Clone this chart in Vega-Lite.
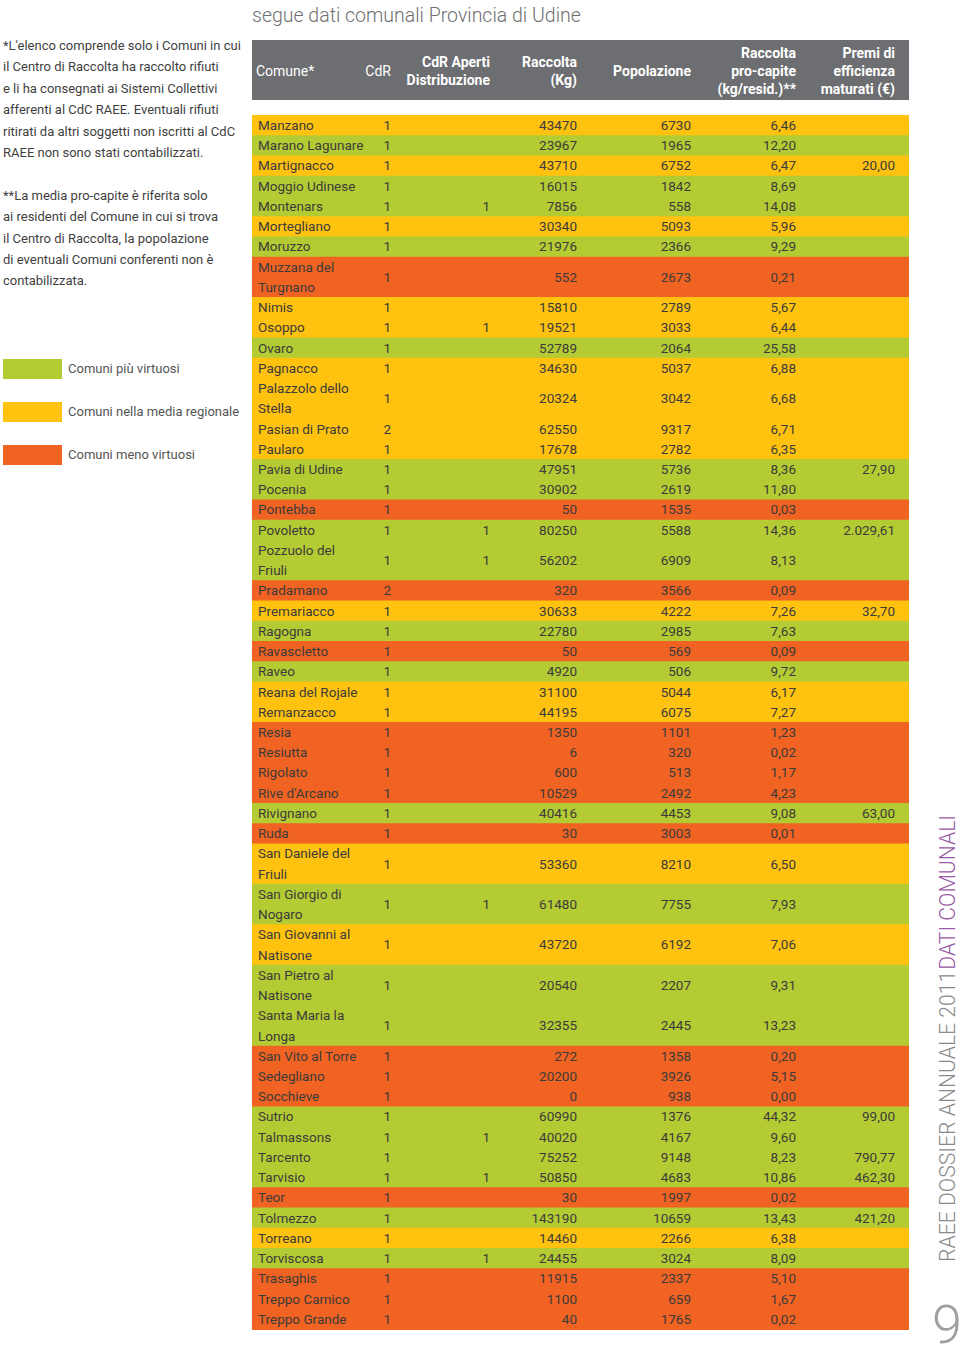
{
  "$schema": "https://vega.github.io/schema/vega-lite/v6.json",
  "padding": {"left": 3, "top": 5, "right": 0, "bottom": 0},
  "title": {
    "text": "segue dati comunali Provincia di Udine",
    "anchor": "start",
    "frame": "group",
    "fontSize": 19.5,
    "fontWeight": 300,
    "font": "Roboto",
    "color": "#6f6f6f",
    "baseline": "alphabetic",
    "offset": -1
  },
  "datasets": {
    "comuni": [
      {"comune": "Manzano", "righe": ["Manzano"], "cdr": 1, "raccolta": 43470, "popolazione": 6730, "procapite": 6.46, "categoria": "Comuni nella media regionale"},
      {"comune": "Marano Lagunare", "righe": ["Marano Lagunare"], "cdr": 1, "raccolta": 23967, "popolazione": 1965, "procapite": 12.20, "categoria": "Comuni più virtuosi"},
      {"comune": "Martignacco", "righe": ["Martignacco"], "cdr": 1, "raccolta": 43710, "popolazione": 6752, "procapite": 6.47, "premi": 20.00, "categoria": "Comuni nella media regionale"},
      {"comune": "Moggio Udinese", "righe": ["Moggio Udinese"], "cdr": 1, "raccolta": 16015, "popolazione": 1842, "procapite": 8.69, "categoria": "Comuni più virtuosi"},
      {"comune": "Montenars", "righe": ["Montenars"], "cdr": 1, "aperti": 1, "raccolta": 7856, "popolazione": 558, "procapite": 14.08, "categoria": "Comuni più virtuosi"},
      {"comune": "Mortegliano", "righe": ["Mortegliano"], "cdr": 1, "raccolta": 30340, "popolazione": 5093, "procapite": 5.96, "categoria": "Comuni nella media regionale"},
      {"comune": "Moruzzo", "righe": ["Moruzzo"], "cdr": 1, "raccolta": 21976, "popolazione": 2366, "procapite": 9.29, "categoria": "Comuni più virtuosi"},
      {"comune": "Muzzana del Turgnano", "righe": ["Muzzana del", "Turgnano"], "cdr": 1, "raccolta": 552, "popolazione": 2673, "procapite": 0.21, "categoria": "Comuni meno virtuosi"},
      {"comune": "Nimis", "righe": ["Nimis"], "cdr": 1, "raccolta": 15810, "popolazione": 2789, "procapite": 5.67, "categoria": "Comuni nella media regionale"},
      {"comune": "Osoppo", "righe": ["Osoppo"], "cdr": 1, "aperti": 1, "raccolta": 19521, "popolazione": 3033, "procapite": 6.44, "categoria": "Comuni nella media regionale"},
      {"comune": "Ovaro", "righe": ["Ovaro"], "cdr": 1, "raccolta": 52789, "popolazione": 2064, "procapite": 25.58, "categoria": "Comuni più virtuosi"},
      {"comune": "Pagnacco", "righe": ["Pagnacco"], "cdr": 1, "raccolta": 34630, "popolazione": 5037, "procapite": 6.88, "categoria": "Comuni nella media regionale"},
      {"comune": "Palazzolo dello Stella", "righe": ["Palazzolo dello", "Stella"], "cdr": 1, "raccolta": 20324, "popolazione": 3042, "procapite": 6.68, "categoria": "Comuni nella media regionale"},
      {"comune": "Pasian di Prato", "righe": ["Pasian di Prato"], "cdr": 2, "raccolta": 62550, "popolazione": 9317, "procapite": 6.71, "categoria": "Comuni nella media regionale"},
      {"comune": "Paularo", "righe": ["Paularo"], "cdr": 1, "raccolta": 17678, "popolazione": 2782, "procapite": 6.35, "categoria": "Comuni nella media regionale"},
      {"comune": "Pavia di Udine", "righe": ["Pavia di Udine"], "cdr": 1, "raccolta": 47951, "popolazione": 5736, "procapite": 8.36, "premi": 27.90, "categoria": "Comuni più virtuosi"},
      {"comune": "Pocenia", "righe": ["Pocenia"], "cdr": 1, "raccolta": 30902, "popolazione": 2619, "procapite": 11.80, "categoria": "Comuni più virtuosi"},
      {"comune": "Pontebba", "righe": ["Pontebba"], "cdr": 1, "raccolta": 50, "popolazione": 1535, "procapite": 0.03, "categoria": "Comuni meno virtuosi"},
      {"comune": "Povoletto", "righe": ["Povoletto"], "cdr": 1, "aperti": 1, "raccolta": 80250, "popolazione": 5588, "procapite": 14.36, "premi": 2029.61, "categoria": "Comuni più virtuosi"},
      {"comune": "Pozzuolo del Friuli", "righe": ["Pozzuolo del", "Friuli"], "cdr": 1, "aperti": 1, "raccolta": 56202, "popolazione": 6909, "procapite": 8.13, "categoria": "Comuni più virtuosi"},
      {"comune": "Pradamano", "righe": ["Pradamano"], "cdr": 2, "raccolta": 320, "popolazione": 3566, "procapite": 0.09, "categoria": "Comuni meno virtuosi"},
      {"comune": "Premariacco", "righe": ["Premariacco"], "cdr": 1, "raccolta": 30633, "popolazione": 4222, "procapite": 7.26, "premi": 32.70, "categoria": "Comuni nella media regionale"},
      {"comune": "Ragogna", "righe": ["Ragogna"], "cdr": 1, "raccolta": 22780, "popolazione": 2985, "procapite": 7.63, "categoria": "Comuni più virtuosi"},
      {"comune": "Ravascletto", "righe": ["Ravascletto"], "cdr": 1, "raccolta": 50, "popolazione": 569, "procapite": 0.09, "categoria": "Comuni meno virtuosi"},
      {"comune": "Raveo", "righe": ["Raveo"], "cdr": 1, "raccolta": 4920, "popolazione": 506, "procapite": 9.72, "categoria": "Comuni più virtuosi"},
      {"comune": "Reana del Rojale", "righe": ["Reana del Rojale"], "cdr": 1, "raccolta": 31100, "popolazione": 5044, "procapite": 6.17, "categoria": "Comuni nella media regionale"},
      {"comune": "Remanzacco", "righe": ["Remanzacco"], "cdr": 1, "raccolta": 44195, "popolazione": 6075, "procapite": 7.27, "categoria": "Comuni nella media regionale"},
      {"comune": "Resia", "righe": ["Resia"], "cdr": 1, "raccolta": 1350, "popolazione": 1101, "procapite": 1.23, "categoria": "Comuni meno virtuosi"},
      {"comune": "Resiutta", "righe": ["Resiutta"], "cdr": 1, "raccolta": 6, "popolazione": 320, "procapite": 0.02, "categoria": "Comuni meno virtuosi"},
      {"comune": "Rigolato", "righe": ["Rigolato"], "cdr": 1, "raccolta": 600, "popolazione": 513, "procapite": 1.17, "categoria": "Comuni meno virtuosi"},
      {"comune": "Rive d'Arcano", "righe": ["Rive d'Arcano"], "cdr": 1, "raccolta": 10529, "popolazione": 2492, "procapite": 4.23, "categoria": "Comuni meno virtuosi"},
      {"comune": "Rivignano", "righe": ["Rivignano"], "cdr": 1, "raccolta": 40416, "popolazione": 4453, "procapite": 9.08, "premi": 63.00, "categoria": "Comuni più virtuosi"},
      {"comune": "Ruda", "righe": ["Ruda"], "cdr": 1, "raccolta": 30, "popolazione": 3003, "procapite": 0.01, "categoria": "Comuni meno virtuosi"},
      {"comune": "San Daniele del Friuli", "righe": ["San Daniele del", "Friuli"], "cdr": 1, "raccolta": 53360, "popolazione": 8210, "procapite": 6.50, "categoria": "Comuni nella media regionale"},
      {"comune": "San Giorgio di Nogaro", "righe": ["San Giorgio di", "Nogaro"], "cdr": 1, "aperti": 1, "raccolta": 61480, "popolazione": 7755, "procapite": 7.93, "categoria": "Comuni più virtuosi"},
      {"comune": "San Giovanni al Natisone", "righe": ["San Giovanni al", "Natisone"], "cdr": 1, "raccolta": 43720, "popolazione": 6192, "procapite": 7.06, "categoria": "Comuni nella media regionale"},
      {"comune": "San Pietro al Natisone", "righe": ["San Pietro al", "Natisone"], "cdr": 1, "raccolta": 20540, "popolazione": 2207, "procapite": 9.31, "categoria": "Comuni più virtuosi"},
      {"comune": "Santa Maria la Longa", "righe": ["Santa Maria la", "Longa"], "cdr": 1, "raccolta": 32355, "popolazione": 2445, "procapite": 13.23, "categoria": "Comuni più virtuosi"},
      {"comune": "San Vito al Torre", "righe": ["San Vito al Torre"], "cdr": 1, "raccolta": 272, "popolazione": 1358, "procapite": 0.20, "categoria": "Comuni meno virtuosi"},
      {"comune": "Sedegliano", "righe": ["Sedegliano"], "cdr": 1, "raccolta": 20200, "popolazione": 3926, "procapite": 5.15, "categoria": "Comuni meno virtuosi"},
      {"comune": "Socchieve", "righe": ["Socchieve"], "cdr": 1, "raccolta": 0, "popolazione": 938, "procapite": 0.00, "categoria": "Comuni meno virtuosi"},
      {"comune": "Sutrio", "righe": ["Sutrio"], "cdr": 1, "raccolta": 60990, "popolazione": 1376, "procapite": 44.32, "premi": 99.00, "categoria": "Comuni più virtuosi"},
      {"comune": "Talmassons", "righe": ["Talmassons"], "cdr": 1, "aperti": 1, "raccolta": 40020, "popolazione": 4167, "procapite": 9.60, "categoria": "Comuni più virtuosi"},
      {"comune": "Tarcento", "righe": ["Tarcento"], "cdr": 1, "raccolta": 75252, "popolazione": 9148, "procapite": 8.23, "premi": 790.77, "categoria": "Comuni più virtuosi"},
      {"comune": "Tarvisio", "righe": ["Tarvisio"], "cdr": 1, "aperti": 1, "raccolta": 50850, "popolazione": 4683, "procapite": 10.86, "premi": 462.30, "categoria": "Comuni più virtuosi"},
      {"comune": "Teor", "righe": ["Teor"], "cdr": 1, "raccolta": 30, "popolazione": 1997, "procapite": 0.02, "categoria": "Comuni meno virtuosi"},
      {"comune": "Tolmezzo", "righe": ["Tolmezzo"], "cdr": 1, "raccolta": 143190, "popolazione": 10659, "procapite": 13.43, "premi": 421.20, "categoria": "Comuni più virtuosi"},
      {"comune": "Torreano", "righe": ["Torreano"], "cdr": 1, "raccolta": 14460, "popolazione": 2266, "procapite": 6.38, "categoria": "Comuni nella media regionale"},
      {"comune": "Torviscosa", "righe": ["Torviscosa"], "cdr": 1, "aperti": 1, "raccolta": 24455, "popolazione": 3024, "procapite": 8.09, "categoria": "Comuni più virtuosi"},
      {"comune": "Trasaghis", "righe": ["Trasaghis"], "cdr": 1, "raccolta": 11915, "popolazione": 2337, "procapite": 5.10, "categoria": "Comuni meno virtuosi"},
      {"comune": "Treppo Carnico", "righe": ["Treppo Carnico"], "cdr": 1, "raccolta": 1100, "popolazione": 659, "procapite": 1.67, "categoria": "Comuni meno virtuosi"},
      {"comune": "Treppo Grande", "righe": ["Treppo Grande"], "cdr": 1, "raccolta": 40, "popolazione": 1765, "procapite": 0.02, "categoria": "Comuni meno virtuosi"}
    ],
    "colonne": [
      {"campo": "comune", "intestazione": ["Comune*"]},
      {"campo": "cdr", "intestazione": ["CdR"]},
      {"campo": "aperti", "intestazione": ["CdR Aperti", "Distribuzione"]},
      {"campo": "raccolta", "intestazione": ["Raccolta", "(Kg)"]},
      {"campo": "popolazione", "intestazione": ["Popolazione"]},
      {"campo": "procapite", "intestazione": ["Raccolta", "pro-capite", "(kg/resid.)**"]},
      {"campo": "premi", "intestazione": ["Premi di", "efficienza", "maturati (€)"]}
    ],
    "pagina": [
      {"voce": "serie", "testo": "RAEE DOSSIER ANNUALE 2011"},
      {"voce": "sezione", "testo": "DATI COMUNALI"},
      {"voce": "numero", "testo": "9"}
    ]
  },
  "data": {"name": "comuni"},
  "transform": [
    {"flatten": ["righe"], "as": ["riga"]},
    {"window": [{"op": "count", "as": "fine"}], "frame": [null, 0]},
    {"window": [{"op": "count", "as": "inizio"}], "frame": [null, -1]},
    {"joinaggregate": [{"op": "mean", "field": "inizio", "as": "centro"}, {"op": "min", "field": "inizio", "as": "primo"}], "groupby": ["comune"]}
  ],
  "spacing": 0,
  "hconcat": [
    {
      "spacing": 15,
      "bounds": "flush",
      "vconcat": [
        {
          "width": 112, "height": 60,
          "view": {"fill": "#6d6e71", "stroke": null},
          "data": {"name": "colonne"},
          "transform": [{"filter": "datum.campo == 'comune'"}],
          "mark": {"type": "text", "align": "left", "baseline": "middle", "dx": 4, "dy": 2, "lineHeight": 18, "fontSize": 14, "fontWeight": "normal", "color": "#ffffff"},
          "encoding": {
            "x": {"field": "campo", "type": "nominal", "bandPosition": 0, "scale": {"type": "band", "paddingInner": 0, "paddingOuter": 0}, "axis": null},
            "text": {"field": "intestazione", "type": "nominal"}
          }
        },
        {
          "width": 112, "height": 1214,
          "layer": [
            {
              "mark": {"type": "rect", "y2Offset": 1},
              "encoding": {
                "x": {"datum": "comune", "type": "nominal", "scale": {"type": "band", "paddingInner": 0, "paddingOuter": 0}, "axis": null},
                "y": {"field": "inizio", "type": "quantitative", "scale": {"domain": [0, 60], "reverse": true, "nice": false, "zero": false}, "axis": null},
                "y2": {"field": "fine"},
                "color": {"field": "categoria", "type": "nominal", "scale": {"domain": ["Comuni più virtuosi", "Comuni nella media regionale", "Comuni meno virtuosi"], "range": ["#b4cb33", "#fec20f", "#f16322"]}, "legend": {"title": ["*L'elenco comprende solo i Comuni in cui", "il Centro di Raccolta ha raccolto rifiuti", "e li ha consegnati ai Sistemi Collettivi", "afferenti al CdC RAEE. Eventuali rifiuti", "ritirati da altri soggetti non iscritti al CdC", "RAEE non sono stati contabilizzati.", "\u200b", "**La media pro-capite è riferita solo", "ai residenti del Comune in cui si trova", "il Centro di Raccolta, la popolazione", "di eventuali Comuni conferenti non è", "contabilizzata."]}}
              }
            },
            {
              "mark": {"type": "text", "align": "left", "baseline": "middle", "dx": 6, "dy": 11},
              "encoding": {
                "x": {"datum": "comune", "type": "nominal", "bandPosition": 0},
                "y": {"field": "inizio", "type": "quantitative"},
                "text": {"field": "riga", "type": "nominal"}
              }
            }
          ]
        }
      ]
    },
    {
      "spacing": 15,
      "bounds": "flush",
      "vconcat": [
        {
          "width": 40, "height": 60,
          "view": {"fill": "#6d6e71", "stroke": null},
          "data": {"name": "colonne"},
          "transform": [{"filter": "datum.campo == 'cdr'"}],
          "mark": {"type": "text", "align": "right", "baseline": "middle", "dx": -13, "dy": 2, "lineHeight": 18, "fontSize": 14, "fontWeight": "normal", "color": "#ffffff"},
          "encoding": {
            "x": {"field": "campo", "type": "nominal", "bandPosition": 1, "scale": {"type": "band", "paddingInner": 0, "paddingOuter": 0}, "axis": null},
            "text": {"field": "intestazione", "type": "nominal"}
          }
        },
        {
          "width": 40, "height": 1214,
          "layer": [
            {
              "mark": {"type": "rect", "y2Offset": 1},
              "encoding": {
                "x": {"datum": "cdr", "type": "nominal", "scale": {"type": "band", "paddingInner": 0, "paddingOuter": 0}, "axis": null},
                "y": {"field": "inizio", "type": "quantitative", "scale": {"domain": [0, 60], "reverse": true, "nice": false, "zero": false}, "axis": null},
                "y2": {"field": "fine"},
                "color": {"field": "categoria", "type": "nominal", "scale": {"domain": ["Comuni più virtuosi", "Comuni nella media regionale", "Comuni meno virtuosi"], "range": ["#b4cb33", "#fec20f", "#f16322"]}, "legend": {"title": ["*L'elenco comprende solo i Comuni in cui", "il Centro di Raccolta ha raccolto rifiuti", "e li ha consegnati ai Sistemi Collettivi", "afferenti al CdC RAEE. Eventuali rifiuti", "ritirati da altri soggetti non iscritti al CdC", "RAEE non sono stati contabilizzati.", "\u200b", "**La media pro-capite è riferita solo", "ai residenti del Comune in cui si trova", "il Centro di Raccolta, la popolazione", "di eventuali Comuni conferenti non è", "contabilizzata."]}}
              }
            },
            {
              "transform": [{"filter": "datum.inizio == datum.primo"}],
              "mark": {"type": "text", "align": "right", "baseline": "middle", "dx": -13, "dy": 11},
              "encoding": {
                "x": {"datum": "cdr", "type": "nominal", "bandPosition": 1},
                "y": {"field": "centro", "type": "quantitative"},
                "text": {"field": "cdr", "type": "quantitative", "format": "d"}
              }
            }
          ]
        }
      ]
    },
    {
      "spacing": 15,
      "bounds": "flush",
      "vconcat": [
        {
          "width": 99, "height": 60,
          "view": {"fill": "#6d6e71", "stroke": null},
          "data": {"name": "colonne"},
          "transform": [{"filter": "datum.campo == 'aperti'"}],
          "mark": {"type": "text", "align": "right", "baseline": "middle", "dx": -13, "dy": -7, "lineHeight": 18, "fontSize": 14, "fontWeight": "bold", "color": "#ffffff"},
          "encoding": {
            "x": {"field": "campo", "type": "nominal", "bandPosition": 1, "scale": {"type": "band", "paddingInner": 0, "paddingOuter": 0}, "axis": null},
            "text": {"field": "intestazione", "type": "nominal"}
          }
        },
        {
          "width": 99, "height": 1214,
          "layer": [
            {
              "mark": {"type": "rect", "y2Offset": 1},
              "encoding": {
                "x": {"datum": "aperti", "type": "nominal", "scale": {"type": "band", "paddingInner": 0, "paddingOuter": 0}, "axis": null},
                "y": {"field": "inizio", "type": "quantitative", "scale": {"domain": [0, 60], "reverse": true, "nice": false, "zero": false}, "axis": null},
                "y2": {"field": "fine"},
                "color": {"field": "categoria", "type": "nominal", "scale": {"domain": ["Comuni più virtuosi", "Comuni nella media regionale", "Comuni meno virtuosi"], "range": ["#b4cb33", "#fec20f", "#f16322"]}, "legend": {"title": ["*L'elenco comprende solo i Comuni in cui", "il Centro di Raccolta ha raccolto rifiuti", "e li ha consegnati ai Sistemi Collettivi", "afferenti al CdC RAEE. Eventuali rifiuti", "ritirati da altri soggetti non iscritti al CdC", "RAEE non sono stati contabilizzati.", "\u200b", "**La media pro-capite è riferita solo", "ai residenti del Comune in cui si trova", "il Centro di Raccolta, la popolazione", "di eventuali Comuni conferenti non è", "contabilizzata."]}}
              }
            },
            {
              "transform": [{"filter": "datum.inizio == datum.primo && isValid(datum.aperti)"}],
              "mark": {"type": "text", "align": "right", "baseline": "middle", "dx": -13, "dy": 11},
              "encoding": {
                "x": {"datum": "aperti", "type": "nominal", "bandPosition": 1},
                "y": {"field": "centro", "type": "quantitative"},
                "text": {"field": "aperti", "type": "quantitative", "format": "d"}
              }
            }
          ]
        }
      ]
    },
    {
      "spacing": 15,
      "bounds": "flush",
      "vconcat": [
        {
          "width": 87, "height": 60,
          "view": {"fill": "#6d6e71", "stroke": null},
          "data": {"name": "colonne"},
          "transform": [{"filter": "datum.campo == 'raccolta'"}],
          "mark": {"type": "text", "align": "right", "baseline": "middle", "dx": -13, "dy": -7, "lineHeight": 18, "fontSize": 14, "fontWeight": "bold", "color": "#ffffff"},
          "encoding": {
            "x": {"field": "campo", "type": "nominal", "bandPosition": 1, "scale": {"type": "band", "paddingInner": 0, "paddingOuter": 0}, "axis": null},
            "text": {"field": "intestazione", "type": "nominal"}
          }
        },
        {
          "width": 87, "height": 1214,
          "layer": [
            {
              "mark": {"type": "rect", "y2Offset": 1},
              "encoding": {
                "x": {"datum": "raccolta", "type": "nominal", "scale": {"type": "band", "paddingInner": 0, "paddingOuter": 0}, "axis": null},
                "y": {"field": "inizio", "type": "quantitative", "scale": {"domain": [0, 60], "reverse": true, "nice": false, "zero": false}, "axis": null},
                "y2": {"field": "fine"},
                "color": {"field": "categoria", "type": "nominal", "scale": {"domain": ["Comuni più virtuosi", "Comuni nella media regionale", "Comuni meno virtuosi"], "range": ["#b4cb33", "#fec20f", "#f16322"]}, "legend": {"title": ["*L'elenco comprende solo i Comuni in cui", "il Centro di Raccolta ha raccolto rifiuti", "e li ha consegnati ai Sistemi Collettivi", "afferenti al CdC RAEE. Eventuali rifiuti", "ritirati da altri soggetti non iscritti al CdC", "RAEE non sono stati contabilizzati.", "\u200b", "**La media pro-capite è riferita solo", "ai residenti del Comune in cui si trova", "il Centro di Raccolta, la popolazione", "di eventuali Comuni conferenti non è", "contabilizzata."]}}
              }
            },
            {
              "transform": [{"filter": "datum.inizio == datum.primo"}],
              "mark": {"type": "text", "align": "right", "baseline": "middle", "dx": -13, "dy": 11},
              "encoding": {
                "x": {"datum": "raccolta", "type": "nominal", "bandPosition": 1},
                "y": {"field": "centro", "type": "quantitative"},
                "text": {"field": "raccolta", "type": "quantitative", "format": "d"}
              }
            }
          ]
        }
      ]
    },
    {
      "spacing": 15,
      "bounds": "flush",
      "vconcat": [
        {
          "width": 114, "height": 60,
          "view": {"fill": "#6d6e71", "stroke": null},
          "data": {"name": "colonne"},
          "transform": [{"filter": "datum.campo == 'popolazione'"}],
          "mark": {"type": "text", "align": "right", "baseline": "middle", "dx": -13, "dy": 2, "lineHeight": 18, "fontSize": 14, "fontWeight": "bold", "color": "#ffffff"},
          "encoding": {
            "x": {"field": "campo", "type": "nominal", "bandPosition": 1, "scale": {"type": "band", "paddingInner": 0, "paddingOuter": 0}, "axis": null},
            "text": {"field": "intestazione", "type": "nominal"}
          }
        },
        {
          "width": 114, "height": 1214,
          "layer": [
            {
              "mark": {"type": "rect", "y2Offset": 1},
              "encoding": {
                "x": {"datum": "popolazione", "type": "nominal", "scale": {"type": "band", "paddingInner": 0, "paddingOuter": 0}, "axis": null},
                "y": {"field": "inizio", "type": "quantitative", "scale": {"domain": [0, 60], "reverse": true, "nice": false, "zero": false}, "axis": null},
                "y2": {"field": "fine"},
                "color": {"field": "categoria", "type": "nominal", "scale": {"domain": ["Comuni più virtuosi", "Comuni nella media regionale", "Comuni meno virtuosi"], "range": ["#b4cb33", "#fec20f", "#f16322"]}, "legend": {"title": ["*L'elenco comprende solo i Comuni in cui", "il Centro di Raccolta ha raccolto rifiuti", "e li ha consegnati ai Sistemi Collettivi", "afferenti al CdC RAEE. Eventuali rifiuti", "ritirati da altri soggetti non iscritti al CdC", "RAEE non sono stati contabilizzati.", "\u200b", "**La media pro-capite è riferita solo", "ai residenti del Comune in cui si trova", "il Centro di Raccolta, la popolazione", "di eventuali Comuni conferenti non è", "contabilizzata."]}}
              }
            },
            {
              "transform": [{"filter": "datum.inizio == datum.primo"}],
              "mark": {"type": "text", "align": "right", "baseline": "middle", "dx": -13, "dy": 11},
              "encoding": {
                "x": {"datum": "popolazione", "type": "nominal", "bandPosition": 1},
                "y": {"field": "centro", "type": "quantitative"},
                "text": {"field": "popolazione", "type": "quantitative", "format": "d"}
              }
            }
          ]
        }
      ]
    },
    {
      "spacing": 15,
      "bounds": "flush",
      "vconcat": [
        {
          "width": 105, "height": 60,
          "view": {"fill": "#6d6e71", "stroke": null},
          "data": {"name": "colonne"},
          "transform": [{"filter": "datum.campo == 'procapite'"}],
          "mark": {"type": "text", "align": "right", "baseline": "middle", "dx": -13, "dy": -16, "lineHeight": 18, "fontSize": 14, "fontWeight": "bold", "color": "#ffffff"},
          "encoding": {
            "x": {"field": "campo", "type": "nominal", "bandPosition": 1, "scale": {"type": "band", "paddingInner": 0, "paddingOuter": 0}, "axis": null},
            "text": {"field": "intestazione", "type": "nominal"}
          }
        },
        {
          "width": 105, "height": 1214,
          "layer": [
            {
              "mark": {"type": "rect", "y2Offset": 1},
              "encoding": {
                "x": {"datum": "procapite", "type": "nominal", "scale": {"type": "band", "paddingInner": 0, "paddingOuter": 0}, "axis": null},
                "y": {"field": "inizio", "type": "quantitative", "scale": {"domain": [0, 60], "reverse": true, "nice": false, "zero": false}, "axis": null},
                "y2": {"field": "fine"},
                "color": {"field": "categoria", "type": "nominal", "scale": {"domain": ["Comuni più virtuosi", "Comuni nella media regionale", "Comuni meno virtuosi"], "range": ["#b4cb33", "#fec20f", "#f16322"]}, "legend": {"title": ["*L'elenco comprende solo i Comuni in cui", "il Centro di Raccolta ha raccolto rifiuti", "e li ha consegnati ai Sistemi Collettivi", "afferenti al CdC RAEE. Eventuali rifiuti", "ritirati da altri soggetti non iscritti al CdC", "RAEE non sono stati contabilizzati.", "\u200b", "**La media pro-capite è riferita solo", "ai residenti del Comune in cui si trova", "il Centro di Raccolta, la popolazione", "di eventuali Comuni conferenti non è", "contabilizzata."]}}
              }
            },
            {
              "transform": [{"filter": "datum.inizio == datum.primo"}],
              "mark": {"type": "text", "align": "right", "baseline": "middle", "dx": -13, "dy": 11},
              "encoding": {
                "x": {"datum": "procapite", "type": "nominal", "bandPosition": 1},
                "y": {"field": "centro", "type": "quantitative"},
                "text": {"field": "procapite", "type": "quantitative", "format": ".2f"}
              }
            }
          ]
        }
      ]
    },
    {
      "spacing": 15,
      "bounds": "flush",
      "vconcat": [
        {
          "width": 100, "height": 60,
          "view": {"fill": "#6d6e71", "stroke": null},
          "data": {"name": "colonne"},
          "transform": [{"filter": "datum.campo == 'premi'"}],
          "mark": {"type": "text", "align": "right", "baseline": "middle", "dx": -14, "dy": -16, "lineHeight": 18, "fontSize": 14, "fontWeight": "bold", "color": "#ffffff"},
          "encoding": {
            "x": {"field": "campo", "type": "nominal", "bandPosition": 1, "scale": {"type": "band", "paddingInner": 0, "paddingOuter": 0}, "axis": null},
            "text": {"field": "intestazione", "type": "nominal"}
          }
        },
        {
          "width": 100, "height": 1214,
          "layer": [
            {
              "mark": {"type": "rect", "y2Offset": 1},
              "encoding": {
                "x": {"datum": "premi", "type": "nominal", "scale": {"type": "band", "paddingInner": 0, "paddingOuter": 0}, "axis": null},
                "y": {"field": "inizio", "type": "quantitative", "scale": {"domain": [0, 60], "reverse": true, "nice": false, "zero": false}, "axis": null},
                "y2": {"field": "fine"},
                "color": {"field": "categoria", "type": "nominal", "scale": {"domain": ["Comuni più virtuosi", "Comuni nella media regionale", "Comuni meno virtuosi"], "range": ["#b4cb33", "#fec20f", "#f16322"]}, "legend": {"title": ["*L'elenco comprende solo i Comuni in cui", "il Centro di Raccolta ha raccolto rifiuti", "e li ha consegnati ai Sistemi Collettivi", "afferenti al CdC RAEE. Eventuali rifiuti", "ritirati da altri soggetti non iscritti al CdC", "RAEE non sono stati contabilizzati.", "\u200b", "**La media pro-capite è riferita solo", "ai residenti del Comune in cui si trova", "il Centro di Raccolta, la popolazione", "di eventuali Comuni conferenti non è", "contabilizzata."]}}
              }
            },
            {
              "transform": [{"filter": "datum.inizio == datum.primo && isValid(datum.premi)"}],
              "mark": {"type": "text", "align": "right", "baseline": "middle", "dx": -14, "dy": 11},
              "encoding": {
                "x": {"datum": "premi", "type": "nominal", "bandPosition": 1},
                "y": {"field": "centro", "type": "quantitative"},
                "text": {"field": "premi", "type": "quantitative", "format": ",.2f"}
              }
            }
          ]
        }
      ]
    },
    {
      "width": 46, "height": 1306,
      "data": {"name": "pagina"},
      "layer": [
        {
          "transform": [{"filter": "datum.voce == 'serie'"}],
          "mark": {"type": "text", "angle": 270, "align": "left", "baseline": "alphabetic", "yOffset": -84, "font": "Roboto", "fontSize": 21.2, "fontWeight": 300, "color": "#8a8a8a"},
          "encoding": {"x": {"value": "width"}, "y": {"value": "height"}, "text": {"field": "testo", "type": "nominal"}}
        },
        {
          "transform": [{"filter": "datum.voce == 'sezione'"}],
          "mark": {"type": "text", "angle": 270, "align": "right", "baseline": "alphabetic", "yOffset": -531, "font": "Roboto", "fontSize": 21.2, "fontWeight": 300, "color": "#9a5aa5"},
          "encoding": {"x": {"value": "width"}, "y": {"value": "height"}, "text": {"field": "testo", "type": "nominal"}}
        },
        {
          "transform": [{"filter": "datum.voce == 'numero'"}],
          "mark": {"type": "text", "align": "center", "baseline": "alphabetic", "xOffset": -8, "yOffset": -3, "font": "Roboto", "fontSize": 54, "fontWeight": 300, "color": "#a0a0a0"},
          "encoding": {"x": {"value": "width"}, "y": {"value": "height"}, "text": {"field": "testo", "type": "nominal"}}
        }
      ]
    }
  ],
  "config": {
    "view": {"stroke": null},
    "concat": {"spacing": 0},
    "text": {"font": "Roboto", "fontSize": 13.5, "color": "#3b3b3b"},
    "legend": {
      "orient": "left",
      "offset": 11,
      "padding": 0,
      "symbolType": "M-1,-0.339L1,-0.339L1,0.339L-1,0.339Z",
      "symbolSize": 3481,
      "symbolStrokeWidth": 0,
      "symbolOpacity": 1,
      "labelFont": "Roboto",
      "labelFontSize": 13,
      "labelColor": "#555555",
      "labelOffset": 6,
      "labelLimit": 300,
      "rowPadding": 3,
      "titleFont": "Roboto",
      "titleFontSize": 13,
      "titleFontWeight": "normal",
      "titleColor": "#3f3f3f",
      "titleLineHeight": 21.4,
      "titlePadding": 51,
      "titleLimit": 400
    },
    "locale": {"number": {"decimal": ",", "thousands": ".", "grouping": [3], "currency": ["", " €"]}}
  }
}
